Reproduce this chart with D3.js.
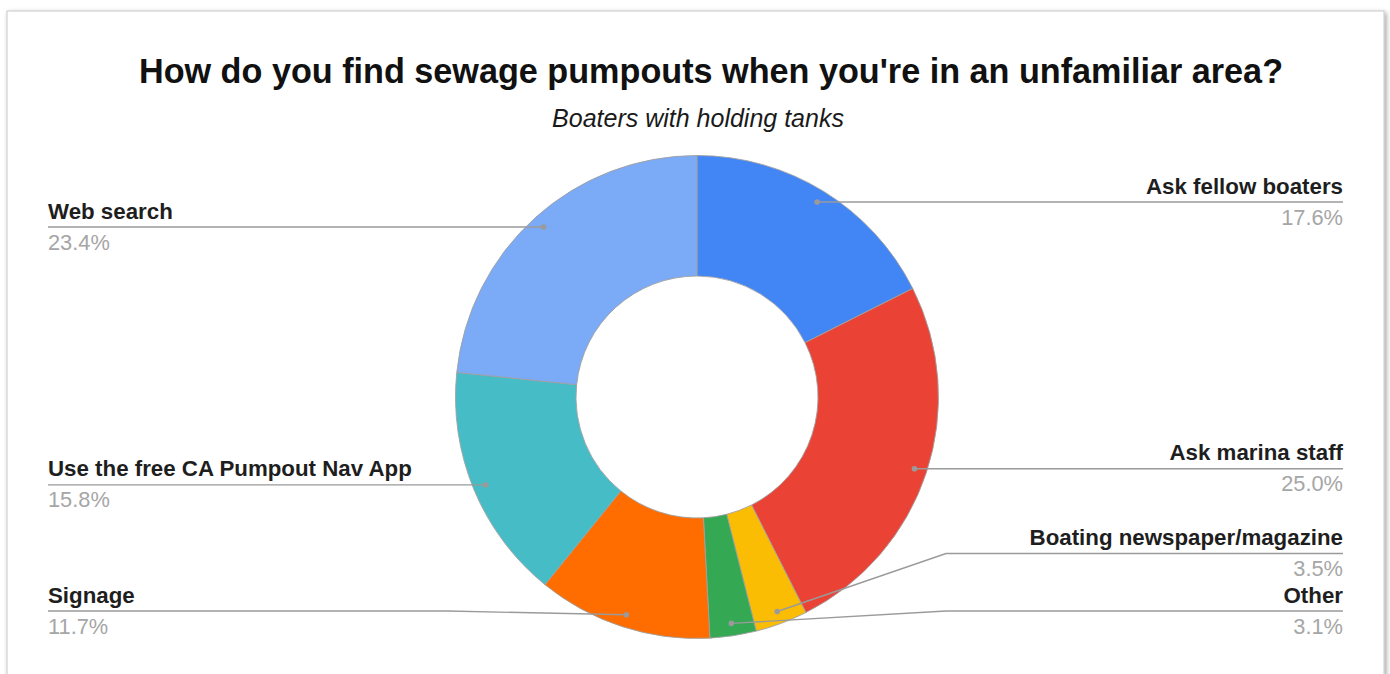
<!DOCTYPE html>
<html lang="en">
<head>
<meta charset="utf-8">
<title>Sewage pumpouts</title>
<script src="https://d3js.org/d3.v7.min.js"></script>
<style>
  body { margin: 0; background: #ffffff; }
  text { font-family: "Liberation Sans", Arial, sans-serif; }
</style>
</head>
<body>
<div id="chart"></div>
<script>

// data
var categories = ["Ask fellow boaters", "Ask marina staff", "Boating newspaper/magazine", "Other",
                  "Signage", "Use the free CA Pumpout Nav App", "Web search"];
var values = [17.6, 25.0, 3.5, 3.1, 11.7, 15.8, 23.4];
var sliceColors = ["#4285f4", "#ea4335", "#fbbc04", "#34a853", "#ff6d01", "#46bdc6", "#7baaf7"];

var titleText = "How do you find sewage pumpouts when you're in an unfamiliar area?";
var subtitleText = "Boaters with holding tanks";

var width = 1390, height = 674;
var cx = 697, cy = 397, outerR = 241.5, innerR = 121, dotR = 229;

var svg = d3.select("#chart")
  .append("svg")
    .attr("width", width)
    .attr("height", height);

// card with soft shadow
var defs = svg.append("defs");
var f = defs.append("filter").attr("id", "shadow")
  .attr("x", "-5%").attr("y", "-5%").attr("width", "110%").attr("height", "110%");
f.append("feDropShadow").attr("dx", 2).attr("dy", 2).attr("stdDeviation", 2.5)
  .attr("flood-color", "#000").attr("flood-opacity", 0.35);

svg.append("rect")
  .attr("x", 7).attr("y", 11)
  .attr("width", 1377).attr("height", 700)
  .attr("fill", "#fff")
  .attr("stroke", "#c8c8c8")
  .attr("stroke-width", 1)
  .attr("filter", "url(#shadow)");

// titles
svg.append("text")
  .attr("x", 711).attr("y", 83)
  .attr("text-anchor", "middle")
  .attr("font-size", "34.2px")
  .attr("font-weight", "bold")
  .attr("fill", "#111")
  .text(titleText);

svg.append("text")
  .attr("x", 698).attr("y", 127)
  .attr("text-anchor", "middle")
  .attr("font-size", "25px")
  .attr("font-style", "italic")
  .attr("fill", "#1a1a1a")
  .text(subtitleText);

// donut
var data = categories.map(function(c, i) { return {name: c, value: values[i], color: sliceColors[i]}; });

var pie = d3.pie().sort(null).value(function(d) { return d.value; });
var arcs = pie(data);
var arc = d3.arc().innerRadius(innerR).outerRadius(outerR);

var g = svg.append("g").attr("transform", "translate(" + cx + "," + cy + ")");

g.selectAll("path")
  .data(arcs)
  .enter()
  .append("path")
    .attr("d", arc)
    .attr("fill", function(d) { return d.data.color; })
    .attr("stroke", "#a0a0a0")
    .attr("stroke-width", 0.9);

// label placement: anchor dot near outer edge, then push labels apart
arcs.forEach(function(d) {
  var a = (d.startAngle + d.endAngle) / 2;
  d.side = a < Math.PI ? "right" : "left";
  d.dx = cx + dotR * Math.sin(a);
  d.dy = cy - dotR * Math.cos(a);
  d.lineY = d.dy;
});

var bottomLimit = 611, gap = 57.5;
["right", "left"].forEach(function(side) {
  var list = arcs.filter(function(d) { return d.side === side; })
    .sort(function(a, b) { return b.lineY - a.lineY; });
  var prev = bottomLimit + gap;
  list.forEach(function(d) {
    d.lineY = Math.min(d.lineY, prev - gap);
    prev = d.lineY;
  });
});

var labels = svg.append("g");

arcs.forEach(function(d) {
  var right = d.side === "right";
  var textX = right ? 1343 : 48;
  var elbowX = right ? 946 : 448;

  labels.append("polyline")
    .attr("points", [[textX, d.lineY], [elbowX, d.lineY], [d.dx, d.dy]].map(function(p) { return p.join(","); }).join(" "))
    .attr("fill", "none")
    .attr("stroke", "#9a9a9a")
    .attr("stroke-width", 1.4);

  labels.append("circle")
    .attr("cx", d.dx).attr("cy", d.dy).attr("r", 2.8)
    .attr("fill", "#9a9a9a");

  labels.append("text")
    .attr("x", textX).attr("y", d.lineY - 8.5)
    .attr("text-anchor", right ? "end" : "start")
    .attr("font-size", "22.3px")
    .attr("font-weight", "bold")
    .attr("fill", "#1e1e1e")
    .text(d.data.name);

  labels.append("text")
    .attr("x", textX).attr("y", d.lineY + 22.5)
    .attr("text-anchor", right ? "end" : "start")
    .attr("font-size", "21.8px")
    .attr("fill", "#a6a6a6")
    .text(d3.format(".1f")(d.data.value) + "%");
});

</script>
</body>
</html>
